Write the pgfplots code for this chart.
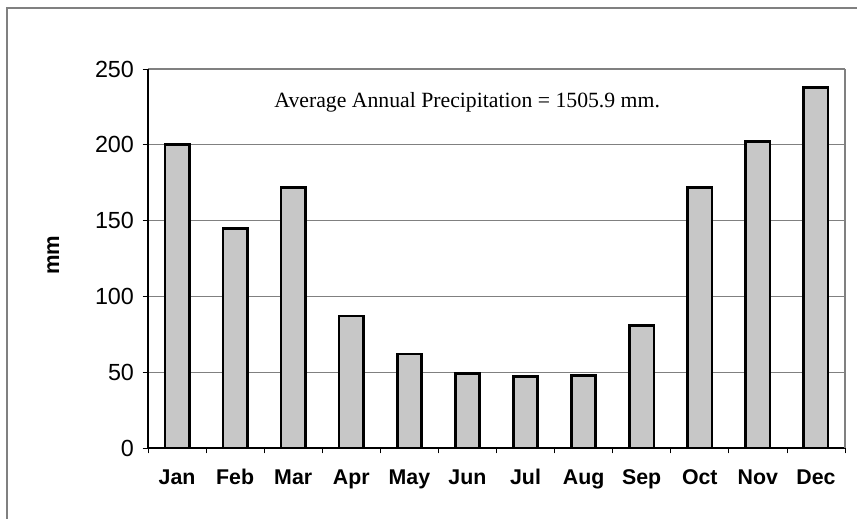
\documentclass[border=0pt]{standalone}
\usepackage{pgfplots}
\pgfplotsset{compat=1.18}
\usepackage{fontspec}
\setmainfont{Liberation Sans}
\newfontfamily\timesfont{Liberation Serif}
\begin{document}
\begin{tikzpicture}
\useasboundingbox (-111pt,-52.5pt) rectangle (531.75pt,336pt);
\draw[gray, line width=0.8pt] (-105.75pt,-60pt) -- (-105.75pt,330pt) -- (540pt,330pt);
\begin{axis}[
  at={(0,0)}, anchor=south west,
  scale only axis,
  width=522.75pt, height=284.25pt,
  /pgf/number format/assume math mode=true,
  axis lines*=left,
  axis line style={black, line width=0.8pt},
  xmin=-0.5, xmax=11.5,
  ymin=0, ymax=250,
  ytick={0,50,...,250},
  xtick={0,...,11},
  xticklabels={Jan,Feb,Mar,Apr,May,Jun,Jul,Aug,Sep,Oct,Nov,Dec},
  minor xtick={-0.5,0.5,...,11.5},
  major x tick style={draw=none},
  tick align=outside,
  major tick length=4pt,
  minor tick length=4pt,
  tick style={black, line width=0.6pt},
  ymajorgrids,
  grid style={gray, line width=0.8pt},
  ticklabel style={font=\fontsize{17.5}{20}\selectfont},
  xticklabel style={font=\fontsize{16}{18}\selectfont\bfseries, anchor=base, yshift=-23.5pt},
  yticklabel style={xshift=-3pt},
  ylabel={mm},
  ylabel style={font=\fontsize{16.5}{18}\selectfont\bfseries, at={(axis description cs:-0.136,0.509)}, anchor=center},
  clip=false,
]
\addplot[ybar, bar width=0.42, draw=black, line width=2pt, fill=black!22] coordinates {
(0,200) (1,145) (2,172) (3,87) (4,62) (5,49) (6,47) (7,48) (8,81) (9,172) (10,202) (11,238)
};
\draw[gray, line width=0.8pt] (rel axis cs:1,0) -- (rel axis cs:1,1);
\node[font=\timesfont\fontsize{16.3}{18}\selectfont, anchor=center] at (rel axis cs:0.458,0.913) {Average Annual Precipitation = 1505.9 mm.};
\end{axis}
\end{tikzpicture}
\end{document}
